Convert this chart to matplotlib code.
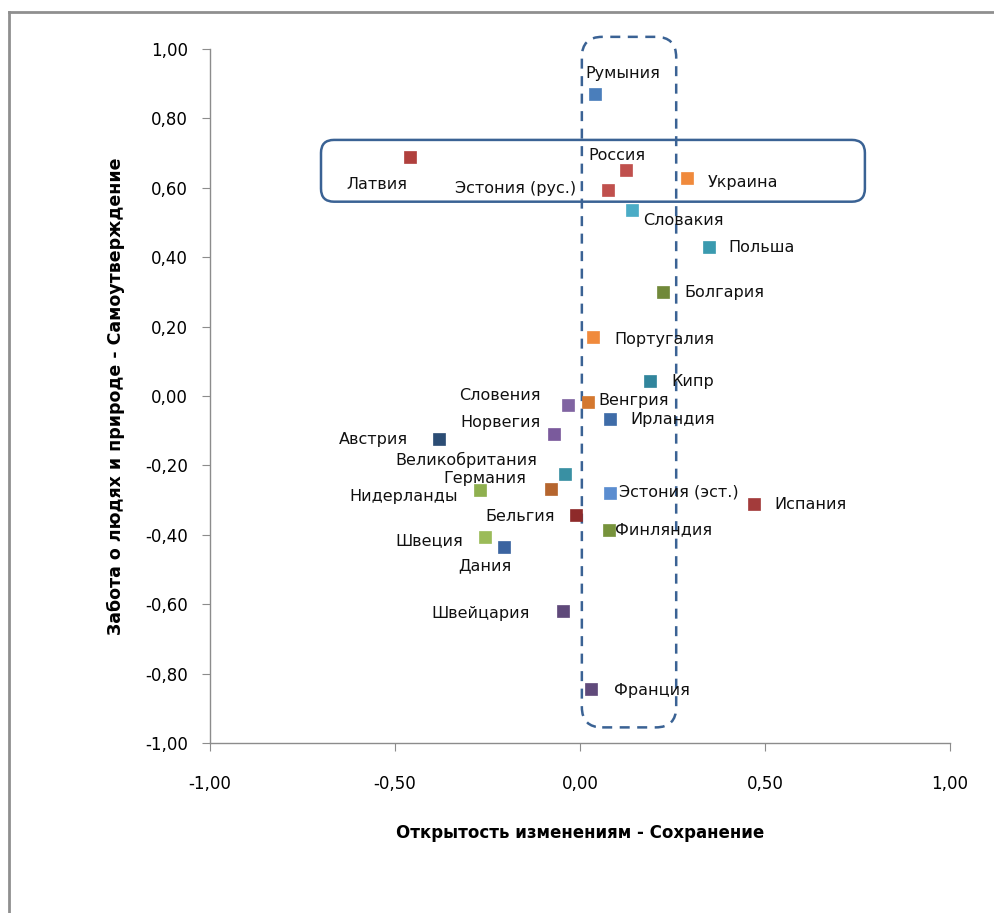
import matplotlib.pyplot as plt
from matplotlib.lines import Line2D
from matplotlib.patches import FancyBboxPatch

# Country positions on the two value dimensions
countries = [
    "Румыния", "Латвия", "Россия", "Эстония (рус.)", "Украина", "Словакия",
    "Польша", "Болгария", "Португалия", "Кипр", "Венгрия", "Словения",
    "Ирландия", "Норвегия", "Австрия", "Великобритания", "Германия",
    "Нидерланды", "Эстония (эст.)", "Испания", "Бельгия", "Финляндия",
    "Швеция", "Дания", "Швейцария", "Франция",
]
openness = [
    0.04, -0.46, 0.124, 0.076, 0.29, 0.14,
    0.35, 0.224, 0.035, 0.19, 0.022, -0.032,
    0.081, -0.07, -0.38, -0.04, -0.078,
    -0.27, 0.081, 0.47, -0.011, 0.078,
    -0.257, -0.205, -0.046, 0.03,
]
self_transcendence = [
    0.87, 0.69, 0.65, 0.595, 0.628, 0.535,
    0.43, 0.30, 0.17, 0.043, -0.017, -0.026,
    -0.066, -0.11, -0.124, -0.225, -0.268,
    -0.27, -0.28, -0.31, -0.343, -0.386,
    -0.406, -0.435, -0.62, -0.845,
]

colors = [
    "#4A7EBB", "#B0403D", "#C0504D", "#C0504D", "#F08A3C", "#4BACC6",
    "#3A9AAF", "#71893A", "#F08A3C", "#31859C", "#D4782F", "#8064A2",
    "#3F6CA8", "#7A5A9C", "#2C4D75", "#3990A3", "#B5652E",
    "#8FB04F", "#5B8DD0", "#A33B3B", "#8E2A2A", "#77933C",
    "#9BBB59", "#3B64A0", "#5F497A", "#604A7B",
]

# label offsets in pixels (dx, dy) and horizontal alignment
offsets = [
    (-9, 21, "left"), (-33, -28, "center"), (-38, 15, "left"), (-32, 1, "right"),
    (20, -4, "left"), (11, -10, "left"), (19, -1, "left"), (21, -1, "left"),
    (21, -2, "left"), (21, 0, "left"), (10, 1, "left"), (-28, 10, "right"),
    (20, -1, "left"), (-13, 12, "right"), (-31, 0, "right"), (-28, 14, "right"),
    (-25, 10, "right"), (-22, -7, "right"), (9, 1, "left"), (20, -1, "left"),
    (-21, -1, "right"), (6, 0, "left"), (-22, -4, "right"), (-19, -19, "center"),
    (-33, -2, "right"), (23, -1, "left"),
]

fig = plt.figure(figsize=(9.95, 9.13), dpi=100)
ax = fig.add_axes([210 / 995, 170 / 913, 740 / 995, 694 / 913])

ax.set_xlim(-1, 1)
ax.set_ylim(-1, 1)

for x, y, c, name, (dx, dy, ha) in zip(openness, self_transcendence, colors,
                                        countries, offsets):
    ax.plot(x, y, "s", color=c, markersize=8.5, markeredgecolor=c,
            markeredgewidth=0.5, zorder=3)
    ax.annotate(name, (x, y), xytext=(dx * 0.72, dy * 0.72),
                textcoords="offset points", ha=ha, va="center",
                fontsize=11.5, color="#111111", family="DejaVu Sans",
                zorder=4)

# highlight boxes
box_color = "#3A6294"
asp = 370 / 347
ax.add_patch(FancyBboxPatch(
    (-0.70, 0.56), 1.47, 0.178,
    boxstyle="round,pad=0,rounding_size=0.035", mutation_aspect=asp,
    fill=False, edgecolor=box_color, linewidth=1.8, clip_on=False, zorder=2))
ax.add_patch(FancyBboxPatch(
    (0.005, -0.955), 0.255, 1.99,
    boxstyle="round,pad=0,rounding_size=0.055", mutation_aspect=asp,
    fill=False, edgecolor=box_color, linewidth=1.8, linestyle=(0, (4, 3)),
    clip_on=False, zorder=2))

# axes styling
for side in ("top", "right"):
    ax.spines[side].set_visible(False)
for side in ("left", "bottom"):
    ax.spines[side].set_color("#8C8C8C")
    ax.spines[side].set_linewidth(1.0)

ax.set_xticks([-1, -0.5, 0, 0.5, 1])
ax.set_yticks([-1, -0.8, -0.6, -0.4, -0.2, 0, 0.2, 0.4, 0.6, 0.8, 1.0])
fmt = lambda v: f"{v:.2f}".replace(".", ",").replace("-0,00", "0,00")
ax.set_xticklabels([fmt(v) for v in ax.get_xticks()])
ax.set_yticklabels([fmt(v) for v in ax.get_yticks()])
ax.tick_params(axis="both", direction="out", length=6, color="#8C8C8C",
               labelsize=12)
ax.tick_params(axis="x", pad=17)
ax.tick_params(axis="y", pad=10)

ax.set_xlabel("Открытость изменениям - Сохранение", fontsize=12,
              fontweight="bold", labelpad=22)
ax.set_ylabel("Забота о людях и природе - Самоутверждение", fontsize=12.5,
              fontweight="bold", labelpad=14)

# outer frame (left and top edges)
fig.add_artist(Line2D([9 / 995, 9 / 995], [0, 1 - 12 / 913],
                      transform=fig.transFigure, color="#8F8F8F", linewidth=2))
fig.add_artist(Line2D([9 / 995, 1], [1 - 12 / 913, 1 - 12 / 913],
                      transform=fig.transFigure, color="#8F8F8F", linewidth=2))

fig.savefig("out.png", dpi=100, facecolor="white")
